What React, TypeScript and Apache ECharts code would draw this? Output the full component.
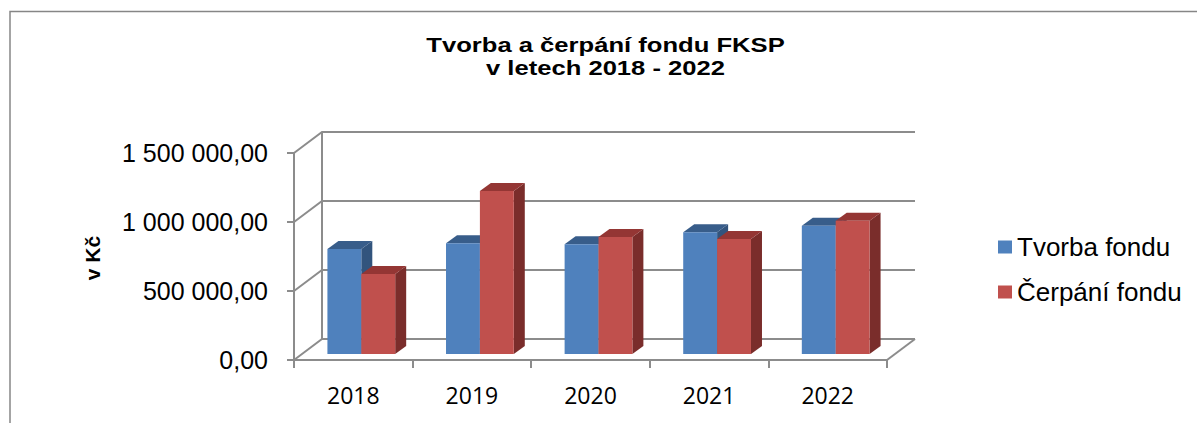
import React, { useEffect, useRef } from "react";
import * as echarts from "echarts";

const years = ["2018", "2019", "2020", "2021", "2022"];
const tvorba = [761000, 802000, 795000, 882000, 930000];
const cerpani = [580000, 1181000, 848000, 833000, 966000];
const yTicks = [0, 500000, 1000000, 1500000];
const yTickLabels = ["0,00", "500 000,00", "1 000 000,00", "1 500 000,00"];
const seriesNames = ["Tvorba fondu", "Čerpání fondu"];
const titleText = "Tvorba a čerpání fondu FKSP\nv letech 2018 - 2022";
const yName = "v Kč";

const WALL_DX = 28;
const WALL_DY = -21;
const OFF_DX = 8;
const OFF_DY = -6;
const BAR_DX = 11;
const BAR_DY = -8;
const GRID_COLOR = "#8C8C8C";

const palettes = [
  { front: "#4F81BD", top: "#385D8A", side: "#32547D" },
  { front: "#C0504D", top: "#943634", side: "#7A2D2B" },
];

function barRenderer(idx: number) {
  return (params: any, api: any) => {
    const cat = api.value(0);
    const val = api.value(1);
    const top = api.coord([cat, val]);
    const base = api.coord([cat, 0]);
    const band = api.size([1, 0])[0];
    const bw = band / 3.5;
    const x0 = top[0] - bw + idx * bw + OFF_DX;
    const yt = top[1] + OFF_DY;
    const yb = base[1] + OFF_DY;
    const p = palettes[idx];
    return {
      type: "group",
      children: [
        {
          type: "polygon",
          shape: {
            points: [
              [x0 + bw, yt],
              [x0 + bw + BAR_DX, yt + BAR_DY],
              [x0 + bw + BAR_DX, yb + BAR_DY],
              [x0 + bw, yb],
            ],
          },
          style: { fill: p.side },
        },
        {
          type: "polygon",
          shape: {
            points: [
              [x0, yt],
              [x0 + bw, yt],
              [x0 + bw + BAR_DX, yt + BAR_DY],
              [x0 + BAR_DX, yt + BAR_DY],
            ],
          },
          style: { fill: p.top },
        },
        {
          type: "rect",
          shape: { x: x0, y: yt, width: bw, height: yb - yt },
          style: { fill: p.front },
        },
      ],
    };
  };
}

function wallRenderer(params: any, api: any) {
  const cs = params.coordSys;
  const v = api.value(1);
  const y = api.coord([0, v])[1];
  const ls = { stroke: GRID_COLOR, lineWidth: 2, fill: null };
  const children: any[] = [
    {
      type: "polyline",
      shape: {
        points: [
          [cs.x, y],
          [cs.x + WALL_DX, y + WALL_DY],
          [cs.x + cs.width + WALL_DX, y + WALL_DY],
        ],
      },
      style: ls,
    },
  ];
  if (v === 0) {
    children.push({
      type: "line",
      shape: {
        x1: cs.x + cs.width,
        y1: y,
        x2: cs.x + cs.width + WALL_DX,
        y2: y + WALL_DY,
      },
      style: ls,
    });
    children.push({
      type: "line",
      shape: {
        x1: cs.x + WALL_DX,
        y1: cs.y + WALL_DY,
        x2: cs.x + WALL_DX,
        y2: y + WALL_DY,
      },
      style: ls,
    });
  }
  return { type: "group", children };
}

export default function App() {
  const ref = useRef<HTMLDivElement>(null);
  useEffect(() => {
    if (!ref.current) return;
    const chart = echarts.init(ref.current, null, { renderer: "svg" });
    chart.setOption({
      animation: false,
      backgroundColor: "#ffffff",
      grid: { left: 294, top: 153, width: 593, height: 207, containLabel: false },
      graphic: [
        {
          type: "rect",
          shape: { x: 10, y: 11.5, width: 1400, height: 600 },
          style: { fill: null, stroke: "#868686", lineWidth: 1.5 },
          silent: true,
          z: -10,
        },
        {
          type: "text",
          x: 605.5,
          y: 56.7,
          scaleX: 1.28,
          style: {
            text: titleText,
            font: 'bold 20px "Liberation Sans", Arial, sans-serif',
            fill: "#000000",
            align: "center",
            verticalAlign: "middle",
            lineHeight: 23.3,
          },
        },
        {
          type: "text",
          x: 92,
          y: 258,
          rotation: Math.PI / 2,
          style: {
            text: yName,
            font: 'bold 21px "Liberation Sans", Arial, sans-serif',
            fill: "#000000",
            align: "center",
            verticalAlign: "middle",
          },
        },
      ],
      legend: {
        data: seriesNames,
        orient: "vertical",
        left: 993,
        top: 227,
        itemWidth: 14,
        itemHeight: 13,
        itemGap: 15,
        icon: "rect",
        textStyle: {
          fontFamily: '"Liberation Sans", Arial, sans-serif',
          fontSize: 26,
          color: "#000000",
          lineHeight: 30,
        },
      },
      xAxis: {
        type: "category",
        data: years,
        boundaryGap: true,
        axisLine: { show: true, lineStyle: { color: GRID_COLOR, width: 2 } },
        axisTick: { show: true, length: 8, lineStyle: { color: GRID_COLOR, width: 2 } },
        axisLabel: {
          margin: 23,
          fontFamily: '"Open Sans", sans-serif',
          fontSize: 23,
          color: "#000000",
        },
        splitLine: { show: false },
      },
      yAxis: {
        type: "value",
        min: 0,
        max: 1500000,
        interval: 500000,
        axisLine: { show: true, lineStyle: { color: GRID_COLOR, width: 2 } },
        axisTick: { show: true, length: 7, lineStyle: { color: GRID_COLOR, width: 2 } },
        splitLine: { show: false },
        axisLabel: {
          margin: 26,
          fontFamily: '"Liberation Sans", Arial, sans-serif',
          fontSize: 25,
          color: "#000000",
          padding: [7, 0, 0, 0],
          formatter: (v: number) => {
            const i = yTicks.indexOf(v);
            return i >= 0 ? yTickLabels[i] : "";
          },
        },
      },
      series: [
        {
          name: "walls",
          type: "custom",
          renderItem: wallRenderer,
          data: yTicks.map((v) => [0, v]),
          encode: { x: 0, y: 1 },
          silent: true,
          z: 1,
        },
        {
          name: seriesNames[0],
          type: "custom",
          renderItem: barRenderer(0),
          data: tvorba.map((v, i) => [i, v]),
          encode: { x: 0, y: 1 },
          itemStyle: { color: palettes[0].front },
          z: 2,
        },
        {
          name: seriesNames[1],
          type: "custom",
          renderItem: barRenderer(1),
          data: cerpani.map((v, i) => [i, v]),
          encode: { x: 0, y: 1 },
          itemStyle: { color: palettes[1].front },
          z: 3,
        },
      ],
    });
    return () => chart.dispose();
  }, []);
  return (
    <div
      ref={ref}
      style={{ position: "absolute", left: 0, top: 0, width: 1197, height: 423, background: "#fff" }}
    />
  );
}
